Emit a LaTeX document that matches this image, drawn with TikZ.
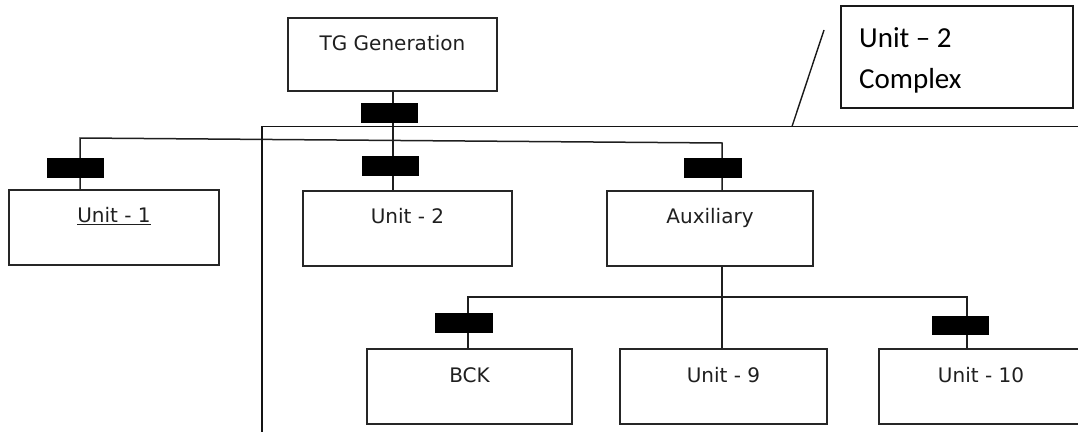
\documentclass[tikz,border=0pt]{standalone}
\usepackage{fontspec}
\newfontfamily\boxfont{DejaVu Sans}
\newfontfamily\notefont{Carlito}
\begin{document}
\begin{tikzpicture}[x=1pt,y=-1pt,
  unitbox/.style={draw=black!85, line width=1.5pt, minimum width=207pt,
    minimum height=75pt, inner sep=0pt},
  breaker/.style={fill=black, minimum width=57pt, minimum height=20pt, inner sep=0pt},
  lbl/.style={font=\boxfont\fontsize{20}{24}\selectfont, text=black!88,
    anchor=base, inner sep=0pt},
  notetext/.style={font=\notefont\fontsize{29}{34}\selectfont, text=black,
    anchor=base west, inner sep=0pt},
  wire/.style={line width=1.5pt, draw=black!88}]
\useasboundingbox (0,0) rectangle (1078,431);

% unit boxes
\node[unitbox, minimum width=209pt, minimum height=73pt] (tg) at (392.5,54.5) {};
\node[unitbox, minimum width=210pt] (u1) at (114,227.5) {};
\node[unitbox, minimum width=209pt] (u2) at (407.5,228.5) {};
\node[unitbox, minimum width=206pt] (aux) at (710,228.5) {};
\node[unitbox, minimum width=205pt] (bck) at (469.5,386.5) {};
\node[unitbox] (u9) at (723.5,386.5) {};
\node[unitbox, minimum width=204pt] (u10) at (981,386.5) {};

% box captions
\node[lbl] (tgt) at ([yshift=-33pt]tg.north) {TG Generation};
\node[lbl] (u1t) at ([yshift=-33pt]u1.north) {\underline{Unit - 1}};
\node[lbl] (u2t) at ([yshift=-33pt]u2.north) {Unit - 2};
\node[lbl] (auxt) at ([yshift=-33pt]aux.north) {Auxiliary};
\node[lbl] (bckt) at ([yshift=-34pt]bck.north) {BCK};
\node[lbl] (u9t) at ([yshift=-34pt]u9.north) {Unit - 9};
\node[lbl] (u10t) at ([yshift=-34pt]u10.north) {Unit - 10};

% bus junctions
\coordinate (busW) at (80,138);
\coordinate (busE) at (722,143);
\coordinate (j2) at (393,139.6);
\coordinate (lbW) at (468,297);
\coordinate (lbM) at (722,297);
\coordinate (lbE) at (967,297);

% upper bus and feeders
\draw[wire] (u1.north -| busW) -- (busW) -- (busE) -- (aux.north -| busE);
\draw[wire] (tg.south -| j2) -- (u2.north -| j2);

% lower bus and feeders
\draw[wire] (bck.north -| lbW) -- (lbW) -- (lbE) -- (u10.north -| lbE);
\draw[wire] (aux.south -| lbM) -- (u9.north -| lbM);

% breakers
\node[breaker] (btg) at (389.5,113) {};
\node[breaker] (b1) at (75.5,167.5) {};
\node[breaker] (b2) at (390.5,166) {};
\node[breaker, minimum width=58pt] (baux) at (713,168) {};
\node[breaker, minimum width=58pt] (bbck) at (464,323) {};
\node[breaker, minimum height=19pt] (b10) at (960.5,325.5) {};

% boundary of the Unit-2 complex
\coordinate (cxTL) at (262,126.5);
\draw[line width=1.7pt, black!92] (262,445) -- (cxTL) -- (1095,126.5);

% callout
\node[draw=black!90, line width=1.5pt, minimum width=232pt, minimum height=102pt,
  inner sep=0pt, anchor=north west] (note) at (840,5) {};
\node[notetext] (note1) at (859,47) {Unit – 2};
\node[notetext] (note2) at (859,88) {Complex};
\coordinate (leadTop) at (824,30);
\coordinate (leadFoot) at (792,126.5);
\draw[line width=1.4pt, black!90] (leadTop) -- (leadFoot);
\end{tikzpicture}
\end{document}
